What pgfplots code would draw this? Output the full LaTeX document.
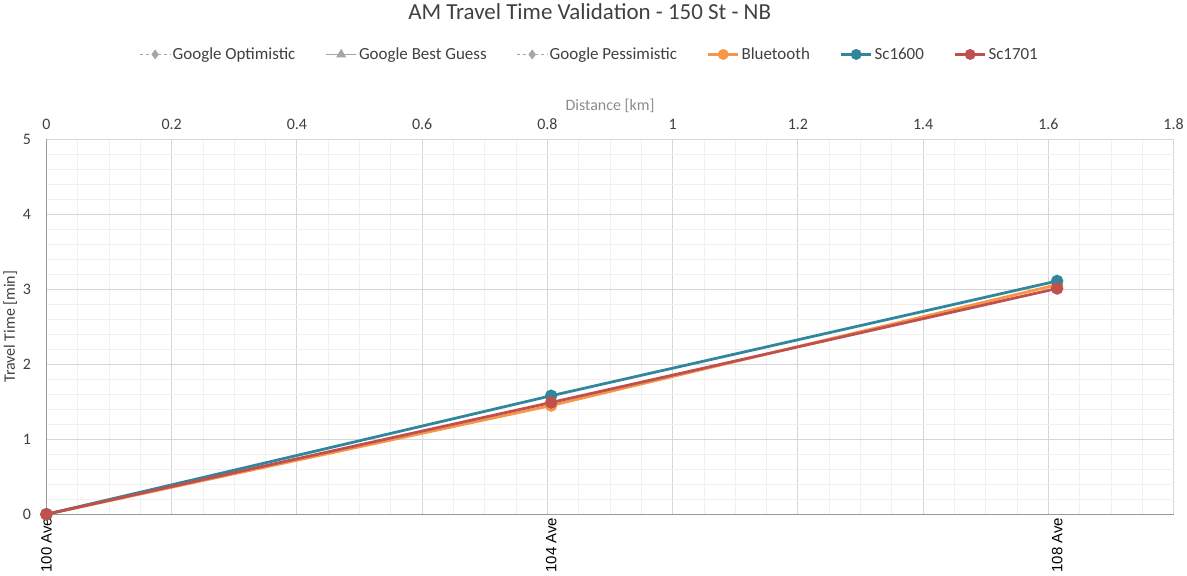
\documentclass[border=0pt]{standalone}
\usepackage{pgfplots}
\pgfplotsset{compat=1.18}
\usepackage{fontspec}
\setmainfont{Carlito}
\newfontfamily\arialf{Liberation Sans}
\definecolor{bt}{RGB}{247,150,70}
\definecolor{sca}{RGB}{49,133,156}
\definecolor{scb}{RGB}{192,80,77}
\definecolor{gg}{RGB}{165,165,165}
\definecolor{tk}{RGB}{64,64,64}
\begin{document}
\begin{tikzpicture}
\begin{axis}[
 name=A,
 scale only axis, width=1130bp, height=376bp,
 xmin=0, xmax=1.8, ymin=0, ymax=5,
 axis line style={draw=none},
 xtick={0,0.2,...,1.8}, ytick={0,1,...,5},
 minor x tick num=3, minor y tick num=4,
 major tick length=0pt, minor tick length=0pt,
 grid=both,
 major grid style={draw=black!16, line width=0.9pt},
 minor grid style={draw=black!6, line width=0.7pt},
 xticklabel pos=upper, yticklabel pos=left,
 /pgf/number format/assume math mode=true,
 ticklabel style={font=\fontsize{16bp}{18bp}\selectfont, text=tk},
 xticklabel style={yshift=6bp},
 yticklabel style={xshift=-12bp},
 xlabel={Distance [km]},
 xlabel style={font=\fontsize{16bp}{18bp}\selectfont, text=black!45, yshift=-1bp},
 ylabel={Travel Time [min]},
 ylabel style={font=\fontsize{16bp}{18bp}\selectfont, text=tk, yshift=-1bp},
 title={AM Travel Time Validation - 150 St - NB},
 title style={at={(0.482,1.325)}, anchor=center, font=\fontsize{23bp}{25bp}\selectfont, text=tk},
]
\end{axis}
\begin{axis}[
 scale only axis, width=1130bp, height=376bp,
 xmin=0, xmax=1.8, ymin=0, ymax=5,
 axis x line*=bottom, axis y line*=left,
 axis line style={draw=black!40, line width=1.1pt, -},
 xtick={0,0.806,1.614}, xticklabels={100 Ave,104 Ave,108 Ave},
 ytick=\empty, major tick length=0pt,
 xticklabel style={rotate=90, anchor=east, font=\arialf\fontsize{15bp}{17bp}\selectfont, text=black},
 legend columns=6,
 legend style={at={(0.482,1.226)}, anchor=center, draw=none, fill=none,
   font=\fontsize{17bp}{19bp}\selectfont, text=tk,
   /tikz/every even column/.append style={column sep=28bp}},
 legend image code/.code={\draw[mark repeat=2, mark phase=2, #1] plot coordinates {(0bp,0bp) (15bp,0bp) (30bp,0bp)};},
 legend image post style={mark size=4bp},
]
\addlegendimage{gg, dashed, line width=1.2pt, mark=diamond*, mark options={solid, fill=gg}}
\addlegendentry{Google Optimistic}
\addlegendimage{gg, line width=1.8pt, mark=triangle*, mark options={solid, fill=gg}}
\addlegendentry{Google Best Guess}
\addlegendimage{gg, dashed, line width=1.2pt, mark=diamond*, mark options={solid, fill=gg}}
\addlegendentry{Google Pessimistic}
\addplot[bt, line width=2.8pt, mark=*, mark size=4.8bp] coordinates {(0,0) (0.806,1.45) (1.614,3.06)};
\addlegendentry{Bluetooth}
\addplot[sca, line width=2.8pt, mark=*, mark size=4.8bp] coordinates {(0,0) (0.806,1.58) (1.614,3.11)};
\addlegendentry{Sc1600}
\addplot[scb, line width=2.8pt, mark=*, mark size=4.8bp] coordinates {(0,0) (0.806,1.49) (1.614,3.01)};
\addlegendentry{Sc1701}
\end{axis}
\end{tikzpicture}
\end{document}
